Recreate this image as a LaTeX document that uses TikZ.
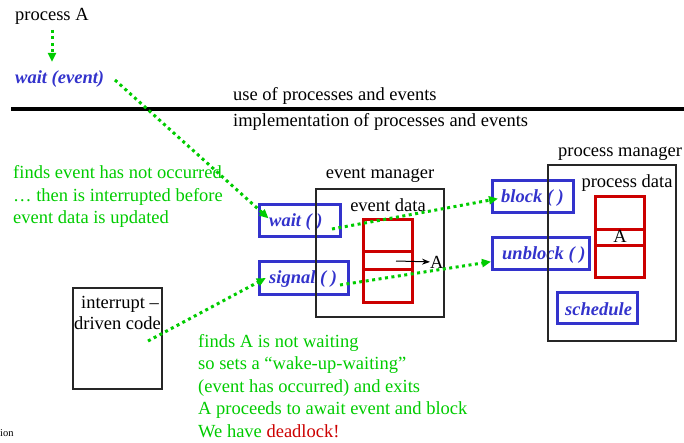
\documentclass[tikz,border=0pt]{standalone}
\usepackage{fontspec}
\setmainfont{Liberation Serif}
\usetikzlibrary{arrows.meta}
\definecolor{ggreen}{RGB}{0,204,0}
\definecolor{bblue}{RGB}{51,51,204}
\definecolor{rred}{RGB}{204,0,0}
\begin{document}
\begin{tikzpicture}[x=1pt,y=-1pt,
  txt/.style={font=\fontsize{18.5}{22.5}\selectfont, inner sep=0pt, anchor=base west},
  ctxt/.style={txt, anchor=base},
  gtxt/.style={txt, text=ggreen},
  btxt/.style={txt, text=bblue, font=\fontsize{18.5}{22.5}\selectfont\bfseries\itshape},
  bbox/.style={draw=bblue, line width=3pt, inner sep=0pt, rectangle},
  kbox/.style={draw=black!85, line width=1.3pt, inner sep=0pt, rectangle},
  rcell/.style={draw=rred, line width=3pt, inner sep=0pt, rectangle, minimum width=49pt},
  dotarrow/.style={draw=ggreen, line width=3pt, dash pattern=on 3pt off 3.5pt,
    -{Triangle[length=9pt,width=8pt]}, shorten >=-2pt}
]
\useasboundingbox (0,0) rectangle (684,443);

% upper level: the process using events
\node[txt] (procA) at (15,21) {process A};
\node[btxt] (waitev) at (15,84) {wait (event)};
\node[txt] (use) at (233,101) {use of processes and events};
\coordinate (divL) at (11,109.5);
\coordinate (divR) at (684,109.5);
\draw[line width=4pt] (divL) -- (divR);
\node[txt] (impl) at (233,127) {implementation of processes and events};

% commentary on the wait call
\node[gtxt] (gA1) at (13,179) {finds event has not occurred};
\node[gtxt] (gA2) at (13,201.5) {\dots\ then is interrupted before};
\node[gtxt] (gA3) at (13,224) {event data is updated};

% event manager
\node[bbox, minimum width=81pt, minimum height=32pt] (waitbox) at (299.5,221) {};
\node[bbox, minimum width=89pt, minimum height=33pt] (sigbox) at (303.5,277.5) {};
\node[btxt] (waitlbl) at (269,227) {wait ( )};
\node[btxt] (siglbl) at (269,283) {signal ( )};
\node[kbox, minimum width=128pt, minimum height=128pt] (evmgr) at (380,253) {};
\node[ctxt] (evmgrlbl) at (380,179) {event manager};
\node[ctxt] (evdatalbl) at (388,212) {event data};
\node[rcell, minimum height=32pt] (ev1) at (387.5,236) {};
\node[rcell, minimum height=17pt] (ev2) at (387.5,260.5) {};
\node[rcell, minimum height=33pt] (ev3) at (387.5,285.5) {};
\coordinate (evptr) at (396,261);
\node[txt] (evA) at (430,268) {A};
\draw[-{Stealth[length=8pt,width=6pt]}, line width=1pt] (evptr) -- (evA.west);

% process manager
\node[bbox, minimum width=81pt, minimum height=32pt] (blockbox) at (532.5,197) {};
\node[bbox, minimum width=97pt, minimum height=31pt] (unblockbox) at (540.5,253.5) {};
\node[bbox, minimum width=80pt, minimum height=31pt] (schedbox) at (597,307.5) {};
\node[btxt] (blocklbl) at (501,203) {block ( )};
\node[btxt] (unblocklbl) at (502,259) {unblock ( )};
\node[btxt] (schedlbl) at (565,315) {schedule};
\node[kbox, minimum width=128pt, minimum height=176pt] (prmgr) at (612,253) {};
\node[ctxt] (prmgrlbl) at (620,157) {process manager};
\node[ctxt] (prdatalbl) at (627,188) {process data};
\node[rcell, minimum height=33pt] (pr1) at (620,213.5) {};
\node[rcell, minimum height=16pt] (pr2) at (620,238) {};
\node[rcell, minimum height=31pt] (pr3) at (620,261.5) {};
\node[ctxt] (prA) at (620,243) {A};

% interrupt handler
\node[kbox, minimum width=89pt, minimum height=101pt] (intbox) at (117.5,338.5) {};
\node[ctxt] (int1) at (120,308) {interrupt --};
\node[ctxt] (int2) at (117.5,329) {driven code};

% commentary on the signal call
\node[gtxt] (gB1) at (198,347) {finds A is not waiting};
\node[gtxt] (gB2) at (198,369.5) {so sets a ``wake-up-waiting''};
\node[gtxt] (gB3) at (198,392) {(event has occurred) and exits};
\node[gtxt] (gB4) at (198,414.5) {A proceeds to await event and block};
\node[gtxt] (gB5) at (198,437) {We have \textcolor{rred}{deadlock!}};

\node[txt, font=\fontsize{10.5}{12}\selectfont] (ion) at (0,436) {ion};

% control flow
\coordinate (a0) at (52,30);
\coordinate (a0e) at (52,60);
\coordinate (a1) at (115,80);
\coordinate (a1e) at (267,217);
\coordinate (a2) at (332,229);
\coordinate (a2e) at (496,199);
\coordinate (a3) at (340,285);
\coordinate (a3e) at (489,262);
\coordinate (a4) at (148,341);
\coordinate (a4e) at (264,279);
\draw[dotarrow] (a0) -- (a0e);
\draw[dotarrow] (a1) -- (a1e);
\draw[dotarrow] (a2) -- (a2e);
\draw[dotarrow] (a3) -- (a3e);
\draw[dotarrow] (a4) -- (a4e);
\end{tikzpicture}
\end{document}
